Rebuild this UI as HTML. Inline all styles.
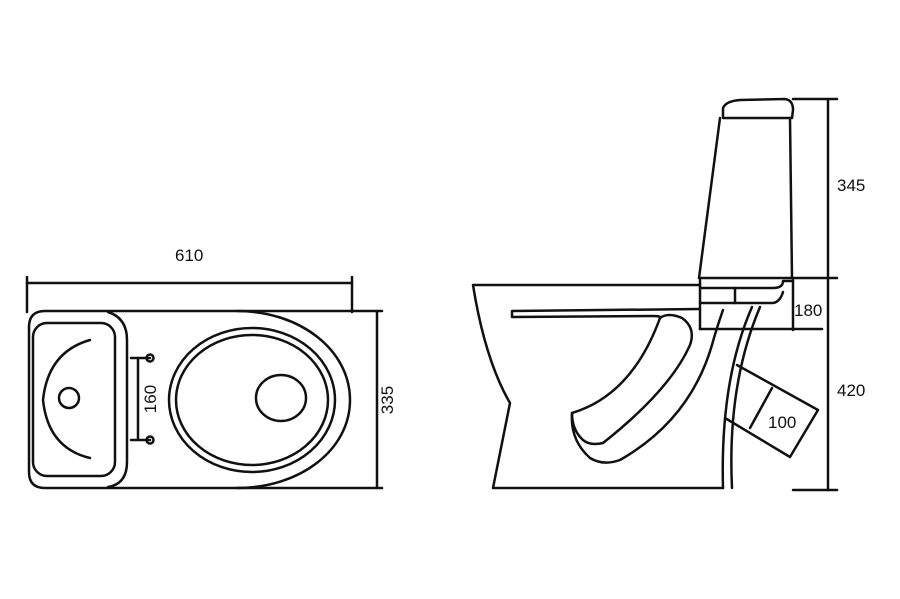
<!DOCTYPE html>
<html><head><meta charset="utf-8"><style>
html,body{margin:0;padding:0;background:#fff}
svg{display:block}
text{font-family:"Liberation Sans",sans-serif;font-size:17px;fill:#111}
</style></head><body>
<svg width="900" height="599" viewBox="0 0 900 599" xmlns="http://www.w3.org/2000/svg">
<g fill="none" stroke="#111" stroke-width="2.5" stroke-linejoin="round" stroke-linecap="round">
<line x1="27" y1="283" x2="352" y2="283"/>
<line x1="27" y1="277" x2="27" y2="312"/>
<line x1="352" y1="277" x2="352" y2="312"/>
<path d="M45 311 L237 311 C300 311 350 350 350 400 C350 450 300 488 237 488 L45 488 Q29 488 29 472 L29 327 Q29 311 45 311 Z"/>
<line x1="237" y1="311" x2="382" y2="311"/>
<line x1="237" y1="488" x2="382" y2="488"/>
<line x1="377" y1="311" x2="377" y2="488"/>
<path d="M108 312 Q127 318 127 340 L127 462 Q127 484 108 487"/>
<rect x="33" y="323" width="82" height="153" rx="14"/>
<path d="M90 340 Q48 352 43 400 Q48 448 90 458"/>
<circle cx="69" cy="398" r="10"/>
<line x1="131" y1="358" x2="150" y2="358"/>
<line x1="131" y1="440" x2="150" y2="440"/>
<line x1="138" y1="358" x2="138" y2="440"/>
<circle cx="150" cy="358" r="3.5"/>
<circle cx="150" cy="440" r="3.5"/>
<ellipse cx="252" cy="400" rx="83" ry="72"/>
<ellipse cx="252" cy="400" rx="76" ry="65"/>
<ellipse cx="281" cy="398" rx="25" ry="23"/>

<path d="M723 118 L723 108 Q726 101 740 100 L785 99 Q793 100 793 110 L792 118 Z"/>
<line x1="720" y1="118" x2="699" y2="278"/>
<line x1="790" y1="118" x2="792" y2="278"/>
<line x1="699" y1="278" x2="837" y2="278"/>
<path d="M700 285 L473 285 Q485 360 510 403 L493 488 L723 488"/>
<line x1="700" y1="280" x2="700" y2="329"/>
<line x1="700" y1="329" x2="822" y2="329"/>
<line x1="793" y1="280" x2="793" y2="330"/>
<path d="M700 288 L773 288 Q783 288 783 281 L793 281"/>
<path d="M700 303 L773 303 Q780 302 783 292"/>
<line x1="735" y1="288" x2="735" y2="303"/>
<path d="M700 309 L512 311 L512 317 L652 316 Q662 316 660 318"/>
<path d="M660 318 Q668 312 682 318 Q696 328 690 345 Q670 390 603 443 Q590 446 583 440 Q572 430 572 413 Q632 395 660 318 Z"/>
<path d="M572 413 Q570 440 590 458 Q603 466 620 460 Q690 420 712 345 Q716 330 723 310"/>
<path d="M752 307 Q720 380 723 488"/>
<path d="M760 307 Q727 385 732 488"/>
<path d="M737 365 L818 410 L790 457 L725 418"/>
<line x1="772" y1="388" x2="750" y2="428"/>
<line x1="828" y1="100" x2="828" y2="490"/>
<line x1="793" y1="99" x2="837" y2="99"/>
<line x1="793" y1="490" x2="837" y2="490"/>
</g>
<text x="175" y="261">610</text>
<text transform="translate(393 400) rotate(-90)" text-anchor="middle">335</text>
<text transform="translate(156 399) rotate(-90)" text-anchor="middle" font-size="15">160</text>
<text x="837" y="191">345</text>
<text x="837" y="396">420</text>
<text x="794" y="316" font-size="16">180</text>
<text x="768" y="428" font-size="16">100</text>
</svg>
</body></html>
